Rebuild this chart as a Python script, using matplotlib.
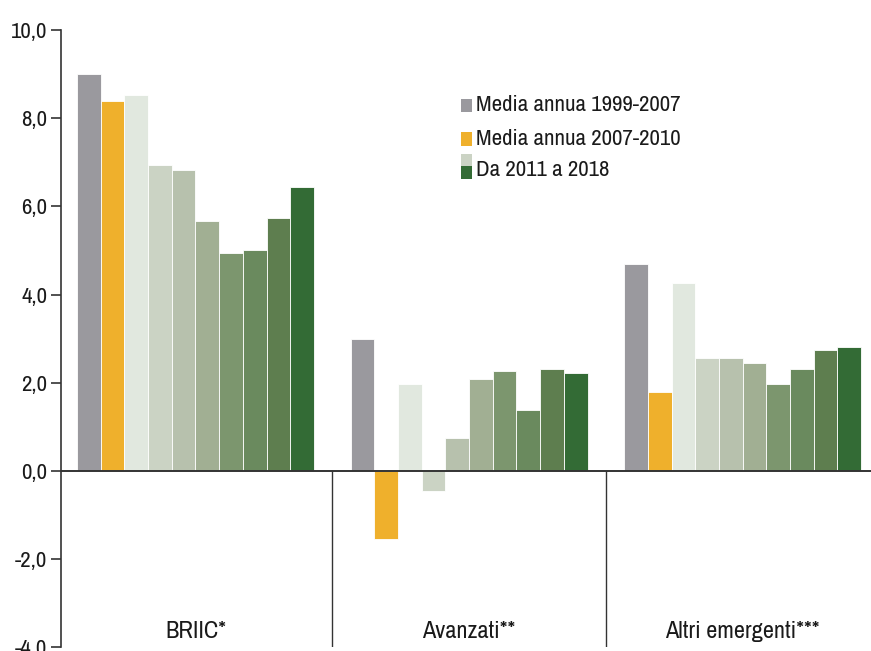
import matplotlib
matplotlib.use("Agg")
import matplotlib.pyplot as plt
from matplotlib import font_manager
from matplotlib.patches import Rectangle
from matplotlib.ticker import FuncFormatter
import numpy as np

# pick a condensed face if one is installed (the original uses a narrow font)
narrow = [f for f in font_manager.fontManager.ttflist
          if ("Narrow" in f.name or "Condensed" in f.name or f.stretch in ("condensed", "semi-condensed"))
          and f.style == "normal" and f.weight in (400, "normal", "regular")]
names = sorted({f.name for f in narrow}, key=lambda s: (0 if "Liberation" in s else 1, s))
fam = names[0] if names else "DejaVu Sans"
plt.rcParams["font.family"] = [fam, "DejaVu Sans"]
plt.rcParams["font.stretch"] = "condensed"

groups = ["BRIIC*", "Avanzati**", "Altri emergenti***"]
series_labels = ["Media annua 1999-2007", "Media annua 2007-2010",
                 "2011", "2012", "2013", "2014", "2015", "2016", "2017", "2018"]
# one row per series, one column per group
values = np.array([
    [9.0, 3.0, 4.69],
    [8.4, -1.54, 1.79],
    [8.52, 1.97, 4.26],
    [6.94, -0.45, 2.57],
    [6.82, 0.75, 2.57],
    [5.67, 2.08, 2.44],
    [4.95, 2.26, 1.96],
    [5.01, 1.37, 2.32],
    [5.73, 2.32, 2.75],
    [6.45, 2.21, 2.81],
])
colors = ["#9a999e", "#efb02c", "#e1e8df", "#cbd3c4", "#b7c1ad",
          "#a1af93", "#7c966e", "#6a8a5e", "#5e7e4f", "#336b35"]
legend_labels = ["Media annua 1999-2007", "Media annua 2007-2010", "Da 2011 a 2018"]

fig = plt.figure(figsize=(8.71, 6.51), dpi=100)
ax = fig.add_axes([0.070, 0.0063, 0.930, 0.9472])

n = len(series_labels)
bw = 0.0866
x = np.arange(len(groups))
for i in range(n):
    offs = (i - (n - 1) / 2) * bw
    ax.bar(x + offs, values[i], width=bw, color=colors[i],
           edgecolor="white", linewidth=0.6, zorder=2)

ax.set_xlim(-0.4916, 2.469)
ax.set_ylim(-4, 10)
ax.set_yticks(np.arange(-4, 10.1, 2))
ax.yaxis.set_major_formatter(FuncFormatter(lambda v, p: f"{v:.1f}".replace(".", ",")))
ax.tick_params(axis="y", length=7, width=1.2, color="#333333", labelsize=16.5,
               pad=3, labelcolor="#1a1a1a")
ax.set_xticks([])

for s in ["top", "right", "bottom"]:
    ax.spines[s].set_visible(False)
ax.spines["left"].set_color("#333333")
ax.spines["left"].set_linewidth(1.2)

ax.axhline(0, color="#333333", linewidth=1.4, zorder=3)
for sep in [0.5, 1.5]:
    ax.plot([sep, sep], [0, -4], color="#333333", linewidth=1.0, zorder=3)

for xi, g in zip(x, groups):
    ax.text(xi, -3.66, g, ha="center", va="center", fontsize=17.5, color="#1a1a1a")

# legend drawn by hand (split swatch for the 2011-2018 bars)
def fig_xy(px, py):
    return px / 871, 1 - py / 651

sw = 11 / 871
legend_rows = [(99, 112, [colors[0]], 105), (132, 146, [colors[1]], 139),
               (154, 179, [colors[3], colors[9]], 170)]
for (top, bot, cols, ty), lab in zip(legend_rows, legend_labels):
    h = (bot - top) / len(cols)
    for k, c in enumerate(cols):
        x0, y0 = fig_xy(461, top + (k + 1) * h)
        fig.patches.append(Rectangle((x0, y0), sw, h / 651, transform=fig.transFigure,
                                     facecolor=c, edgecolor="none"))
    tx, tyf = fig_xy(476, ty)
    fig.text(tx, tyf, lab, ha="left", va="center", fontsize=16.5, color="#1a1a1a")

fig.savefig("out.png", dpi=100)
